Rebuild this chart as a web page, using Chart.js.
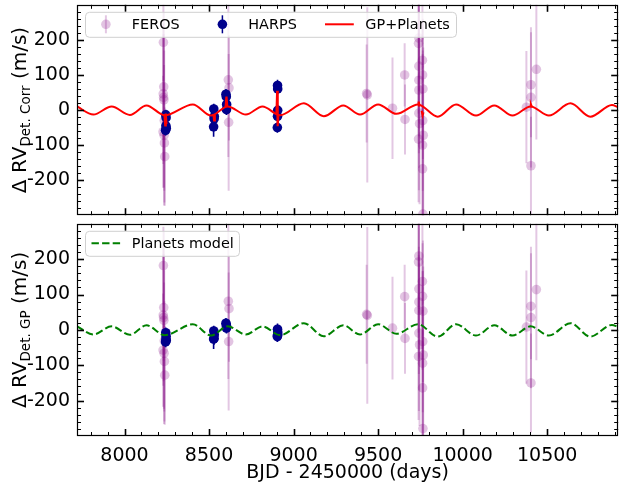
<!DOCTYPE html>
<html><head><meta charset="utf-8">
<script src="https://cdn.jsdelivr.net/npm/chart.js@4.4.1/dist/chart.umd.min.js"></script>
<style>
html,body{margin:0;padding:0;background:#fff;width:623px;height:486px;overflow:hidden}
#p1{position:absolute;left:0;top:0}
#p2{position:absolute;left:0;top:219px}
</style></head>
<body>
<canvas id="p1" width="623" height="220"></canvas>
<canvas id="p2" width="623" height="267"></canvas>
<script>
// ===== DATA =====
const xTicks = [8000, 8500, 9000, 9500, 10000, 10500];
const yTicks = [-200, -100, 0, 100, 200];
const xLabel = 'BJD - 2450000 (days)';

// FEROS: time, detrended RV (corr), detrended RV (GP), error
const ferosTime = [8230, 8232, 8229, 8231, 8233, 8235, 8228, 8234, 8236, 8238,
  8614, 8618, 8616,
  9432, 9436, 9585, 9657, 9659,
  9741, 9739, 9762, 9741, 9763, 9741, 9765, 9741, 9741, 9764, 9745, 9767, 9739, 9763, 9763, 9765,
  10377, 10404, 10404, 10436, 10404];
const ferosCorr = [193, 66, 46, 36, 29, -30, -62, -72, -94, -133,
  86, 63, -35,
  47, 43, 5, 100, -27,
  205, 190, 142, 125, 100, 85, 60, 57, -9, -30, -39, -72, -83, -100, -168, -297,
  8, 72, 36, 116, -159];
const ferosGP = [182, 63, 42, 35, 27, -31, -57, -66, -89, -128,
  81, 60, -33,
  44, 41, 5, 94, -24,
  209, 192, 137, 116, 95, 79, 53, 55, -9, -33, -42, -71, -75, -94, -164, -279,
  8, 67, 35, 114, -150];
const ferosErr = [110, 150, 200, 180, 250, 200, 160, 200, 170, 140,
  220, 150, 195,
  140, 250, 145, 90, 100,
  150, 200, 250, 200, 150, 250, 200, 180, 220, 200, 230, 250, 180, 260, 220, 280,
  160, 150, 200, 200, 140];

// HARPS: time, detrended RV (corr), detrended RV (GP), error
const harpsTime = [8244, 8246, 8245, 8247, 8243,
  8528, 8531, 8530, 8527,
  8600, 8602, 8604, 8603,
  8905, 8906, 8906, 8905, 8904];
const harpsCorr = [-14, -22, -45, -52, -58,
  3, -18, -25, -48,
  45, 38, 16, 1,
  70, 60, -1, -18, -50];
const harpsGP = [-8, -18, -26, -30, -34,
  -3, -14, -24, -26,
  19, 14, 9, 5,
  2, -6, -12, -16, -19];
const harpsErr = [15, 15, 18, 15, 15,
  15, 15, 18, 28,
  15, 15, 15, 15,
  16, 15, 15, 15, 15];

// Planets model: extrema of the curve (time, RV)
const modelTime = [7719, 7816, 7924, 8032, 8130, 8238, 8404, 8512, 8610, 8718, 8816, 8920,
  9061, 9179, 9294, 9393, 9500, 9608, 9736, 9853, 9961, 10079, 10187, 10295, 10402, 10510,
  10638, 10755, 10883, 10920];
const modelRV = [10, -13, 10, -14, 13, -15, 16, -16, 10, -13, 10, -15,
  19, -18, 13, -13, 16, -11, 16, -19, 16, -16, 13, -16, 10, -16,
  19, -19, 14, 8];

// GP+Planets: excursions of the GP at the data epochs (null = gap)
const gpTime = [8236, 8241, 8244, 8248, null, 8526, 8530, 8534, null, 8598, 8603, 8608, null,
  8899, 8903, 8906, 8910, null, 9736, 9740, 9745, null, 9758, 9763, 9768, null, 10400, 10404, 10408];
const gpRV = [-12, -44, -10, -40, null, -12, -30, -14, null, 9, 38, 8, null,
  -10, 55, -46, -13, null, 14, 24, 10, null, -2, -14, -6, null, 10, 15, 10];

// ===== STYLE =====
const FONT = 'DejaVu Sans';
const ferosColor = 'rgba(128,0,128,0.23)';
const ferosBar = 'rgba(128,0,128,0.22)';
const harpsColor = '#00008b';

function pts(xs, ys) { return xs.map((x, i) => ({x: x, y: (x === null ? null : ys[i])})); }

const errorBars = {
  id: 'errorBars',
  beforeDatasetDraw(chart, args) {
    const ds = chart.data.datasets[args.index];
    if (!ds.errors) return;
    const meta = args.meta, ys = chart.scales.y, ctx = chart.ctx, a = chart.chartArea;
    ctx.save();
    ctx.beginPath(); ctx.rect(a.left, a.top, a.right - a.left, a.bottom - a.top); ctx.clip();
    ctx.strokeStyle = ds.barColor; ctx.lineWidth = ds.barWidth;
    meta.data.forEach((el, i) => {
      const v = ds.data[i].y, e = ds.errors[i];
      ctx.beginPath();
      ctx.moveTo(el.x, ys.getPixelForValue(v - e));
      ctx.lineTo(el.x, ys.getPixelForValue(v + e));
      ctx.stroke();
    });
    ctx.restore();
  }
};

function frameTicks() {
  return {
    id: 'frameTicks',
    afterDraw(chart) {
      const ctx = chart.ctx, a = chart.chartArea, xs = chart.scales.x, ys = chart.scales.y;
      ctx.save();
      ctx.strokeStyle = '#000';
      function tick(x1, y1, x2, y2, w) { ctx.lineWidth = w; ctx.beginPath(); ctx.moveTo(x1, y1); ctx.lineTo(x2, y2); ctx.stroke(); }
      for (let t = 7800; t <= 10900; t += 100) {
        const px = Math.round(xs.getPixelForValue(t)) + 0.5;
        const major = t % 500 === 0;
        const L = major ? 7 : 4, w = major ? 1.6 : 1;
        tick(px, a.bottom, px, a.bottom - L, w);
        tick(px, a.top, px, a.top + L, w);
      }
      for (let v = -280; v <= 280; v += 20) {
        const py = Math.round(ys.getPixelForValue(v)) + 0.5;
        const major = v % 100 === 0;
        const L = major ? 7 : 4, w = major ? 1.6 : 1;
        tick(a.left, py, a.left + L, py, w);
        tick(a.right, py, a.right - L, py, w);
      }
      ctx.lineWidth = 1.2;
      ctx.strokeRect(Math.round(a.left) + 0.5, Math.round(a.top) + 0.5, Math.round(a.right - a.left) - 1, Math.round(a.bottom - a.top) - 1);
      // y axis title with subscript
      const t = chart.options.plugins.frameTicks;
      const cy = (a.top + a.bottom) / 2;
      ctx.translate(26, cy);
      ctx.rotate(-Math.PI / 2);
      ctx.fillStyle = '#000';
      ctx.textBaseline = 'alphabetic';
      const f1 = '20px "' + FONT + '"', f2 = '13.5px "' + FONT + '"';
      ctx.font = f1; const w1 = ctx.measureText(t.main).width; const w3 = ctx.measureText(t.tail).width;
      ctx.font = f2; const w2 = ctx.measureText(t.sub).width;
      let x0 = -(w1 + w2 + w3) / 2;
      ctx.font = f1; ctx.fillText(t.main, x0, 0);
      ctx.font = f2; ctx.fillText(t.sub, x0 + w1, 4);
      ctx.font = f1; ctx.fillText(t.tail, x0 + w1 + w2, 0);
      ctx.restore();
    }
  };
}

const legendBox = {
  id: 'legendBox',
  afterDraw(chart) {
    const o = chart.options.plugins.legendBox, ctx = chart.ctx, a = chart.chartArea;
    const top = a.top + 7, h = 25, left = 85.5, cy = top + h / 2;
    ctx.save();
    ctx.beginPath();
    ctx.roundRect(left, top + 0.5, o.width, h, 4);
    ctx.fillStyle = 'rgba(255,255,255,0.8)'; ctx.fill();
    ctx.strokeStyle = '#d0d0d0'; ctx.lineWidth = 1; ctx.stroke();
    ctx.font = '14.4px "' + FONT + '"'; ctx.textBaseline = 'middle'; ctx.fillStyle = '#000';
    o.items.forEach(it => {
      const hx = it.x;
      if (it.kind === 'feros' || it.kind === 'harps') {
        const c = it.kind === 'feros' ? ferosBar : harpsColor;
        ctx.strokeStyle = c; ctx.lineWidth = it.kind === 'feros' ? 2 : 1.5;
        ctx.beginPath(); ctx.moveTo(hx + 14.4, cy - 9); ctx.lineTo(hx + 14.4, cy + 9); ctx.stroke();
        ctx.fillStyle = it.kind === 'feros' ? ferosColor : harpsColor;
        ctx.beginPath(); ctx.arc(hx + 14.4, cy, 4.8, 0, Math.PI * 2); ctx.fill();
      } else {
        ctx.strokeStyle = it.color; ctx.lineWidth = 2; ctx.setLineDash(it.dash || []);
        ctx.beginPath(); ctx.moveTo(hx, cy); ctx.lineTo(hx + 28.8, cy); ctx.stroke();
        ctx.setLineDash([]);
      }
      ctx.fillStyle = '#000';
      ctx.fillText(it.text, hx + 28.8 + 11.5, cy + 1);
    });
    ctx.restore();
  }
};

function baseOptions(isBottom, yTitle, legend) {
  return {
    responsive: false, animation: false, events: [],
    layout: {padding: {top: 3, right: 2, left: 0, bottom: 0}},
    plugins: {legend: {display: false}, tooltip: {enabled: false},
      frameTicks: yTitle, legendBox: legend},
    scales: {
      x: {type: 'linear', min: 7719, max: 10920,
        grid: {display: false, drawTicks: false}, border: {display: false},
        afterBuildTicks: s => { s.ticks = xTicks.map(v => ({value: v})); },
        afterFit: s => { s.height = isBottom ? 50 : 4; s.paddingLeft = 0; s.paddingRight = 0; },
        ticks: {display: isBottom, color: '#000', padding: 9, maxRotation: 0,
          font: {family: FONT, size: 19}, callback: v => String(v)},
        title: {display: isBottom, text: xLabel, color: '#000', font: {family: FONT, size: 19}, padding: {top: 0, bottom: 2}}
      },
      y: {type: 'linear', min: -300, max: 300,
        grid: {display: false, drawTicks: false}, border: {display: false},
        afterBuildTicks: s => { s.ticks = yTicks.map(v => ({value: v})); },
        afterFit: s => { s.width = 77; s.paddingTop = 0; s.paddingBottom = 0; },
        ticks: {color: '#000', padding: 7, font: {family: FONT, size: 19}, callback: v => String(v)}
      }
    }
  };
}

function scatterSets(ferosY, harpsY) {
  return [
    {type: 'scatter', data: pts(ferosTime, ferosY), errors: ferosErr, barColor: ferosBar, barWidth: 2,
      pointRadius: 4.8, pointBackgroundColor: ferosColor, pointBorderWidth: 0, order: 3, clip: 0},
    {type: 'scatter', data: pts(harpsTime, harpsY), errors: harpsErr, barColor: harpsColor, barWidth: 1.6,
      pointRadius: 4.8, pointBackgroundColor: harpsColor, pointBorderWidth: 0, order: 2, clip: 0}
  ];
}

new Chart(document.getElementById('p1'), {
  data: {datasets: [
    {type: 'line', data: pts(modelTime, modelRV), borderColor: '#ff0000', borderWidth: 2, pointRadius: 0,
      cubicInterpolationMode: 'monotone', order: 1, clip: 0},
    {type: 'line', data: pts(gpTime, gpRV), borderColor: '#ff0000', borderWidth: 2.2, pointRadius: 0,
      tension: 0, spanGaps: false, order: 1, clip: 0},
    ...scatterSets(ferosCorr, harpsCorr)
  ]},
  options: baseOptions(false, {main: 'Δ RV', sub: 'Det. Corr', tail: ' (m/s)'},
    {width: 371, items: [
      {kind: 'feros', x: 91.5, text: 'FEROS'},
      {kind: 'harps', x: 208, text: 'HARPS'},
      {kind: 'line', x: 325, color: '#ff0000', text: 'GP+Planets'}]}),
  plugins: [errorBars, frameTicks(), legendBox]
});

new Chart(document.getElementById('p2'), {
  data: {datasets: [
    {type: 'line', data: pts(modelTime, modelRV), borderColor: '#008000', borderWidth: 2, borderDash: [7.4, 3.2],
      pointRadius: 0, cubicInterpolationMode: 'monotone', order: 1, clip: 0},
    ...scatterSets(ferosGP, harpsGP)
  ]},
  options: baseOptions(true, {main: 'Δ RV', sub: 'Det. GP', tail: ' (m/s)'},
    {width: 154, items: [
      {kind: 'line', x: 91.5, color: '#008000', dash: [7.4, 3.2], text: 'Planets model'}]}),
  plugins: [errorBars, frameTicks(), legendBox]
});
</script>
</body></html>
